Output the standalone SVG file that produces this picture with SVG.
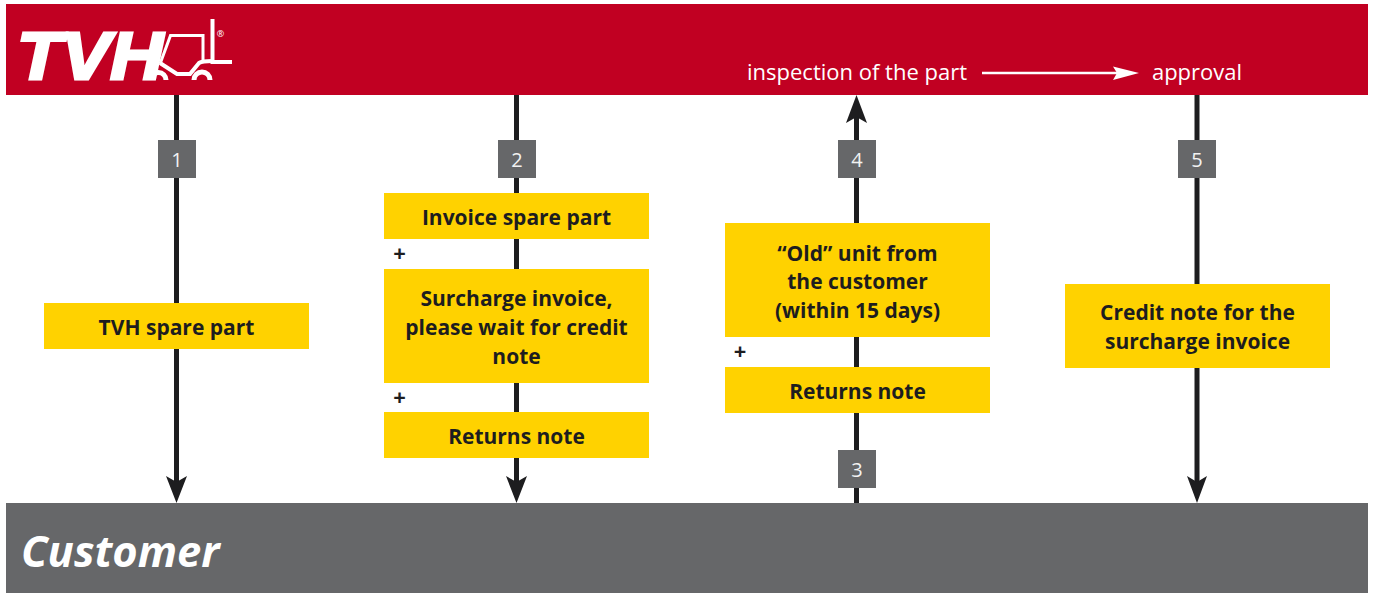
<svg xmlns="http://www.w3.org/2000/svg" width="1375" height="593" viewBox="0 0 1375 593">
<style>
text{font-family:"Open Sans","Noto Sans","Liberation Sans",sans-serif}
.box{fill:#ffd200}
.lbl{font-size:21px;font-weight:700;fill:#1d1d1f;text-anchor:middle}
.plus{font-size:22px;font-weight:700;fill:#1d1d1f;text-anchor:middle}
.num{fill:#666769}
.numt{font-size:20px;fill:#f2f2f2;text-anchor:middle}
.wire{stroke:#1d1d1f;stroke-width:5;fill:none}
.top{font-size:22px;fill:#fff;text-anchor:middle}
.head{fill:#1d1d1f}
</style>
<rect width="1375" height="593" fill="#fff"/>
<g id="tvh-band">
<rect x="6" y="4" width="1362" height="91" fill="#c10022"/>
<text x="17" y="79" font-size="67" font-weight="700" font-style="italic" fill="#fff" stroke="#fff" stroke-width="3" style="font-family:'Liberation Sans',sans-serif" textLength="146" lengthAdjust="spacingAndGlyphs">TVH</text>
<g fill="none" stroke="#fff">
<path d="M160 64 L170.500 35.500 H203 V60" stroke-width="3"/>
<path d="M212.500 19 V62 H232" stroke-width="4"/>
<path d="M160 63 L177 74 H190 L199 63 Q202 61 212 61" stroke-width="4"/>
<path d="M151 80 A7.500 7.500 0 0 1 166 80" stroke-width="5"/>
<path d="M194 80 A8 8 0 0 1 210 80" stroke-width="5"/>
</g>
<text x="220.500" y="36.500" font-size="9" fill="#fff" text-anchor="middle">®</text>
<text class="top" x="857" y="80">inspection of the part</text>
<text class="top" x="1197" y="80">approval</text>
<path d="M982 73 H1122" stroke="#fff" stroke-width="2.500"/>
<path d="M1139 73 L1113 66.500 L1117 73 L1113 80 Z" fill="#fff"/>
</g>
<g id="customer-band">
<rect x="6" y="503" width="1362" height="90" fill="#666769"/>
<text x="21" y="567" font-size="43.500" font-weight="700" font-style="italic" fill="#fff">Customer</text>
</g>
<g id="connectors">
<path class="wire" d="M176.500 95 V485"/>
<path class="head" d="M176.500 503 L166 476 L176.500 482 L187 476 Z"/>
<path class="wire" d="M516.500 95 V485"/>
<path class="head" d="M516.500 503 L506 476 L516.500 482 L527 476 Z"/>
<path class="wire" d="M856.500 503 V115"/>
<path class="head" d="M856.500 95 L846 123 L856.500 117 L867 123 Z"/>
<path class="wire" d="M1197 95 V485"/>
<path class="head" d="M1197 503 L1187 476 L1197 482 L1207 476 Z"/>
</g>
<g id="step-1"><rect class="num" x="158" y="140" width="38" height="38"/><text class="numt" x="177" y="167">1</text></g>
<g id="step-2"><rect class="num" x="498" y="140" width="38" height="38"/><text class="numt" x="517" y="167">2</text></g>
<g id="step-3"><rect class="num" x="838" y="450" width="38" height="38"/><text class="numt" x="857" y="477">3</text></g>
<g id="step-4"><rect class="num" x="838" y="140" width="38" height="38"/><text class="numt" x="857" y="167">4</text></g>
<g id="step-5"><rect class="num" x="1178" y="140" width="38" height="38"/><text class="numt" x="1197" y="167">5</text></g>
<g id="tvh-spare-part"><rect class="box" x="44" y="303" width="265" height="46"/><text class="lbl" x="176.500" y="335">TVH spare part</text></g>
<g id="invoice-spare-part"><rect class="box" x="384" y="193" width="265" height="46"/><text class="lbl" x="516.500" y="225">Invoice spare part</text></g>
<g id="surcharge-invoice"><rect class="box" x="384" y="269" width="265" height="114"/><text class="lbl" x="516.500" y="306">Surcharge invoice,</text><text class="lbl" x="516.500" y="335">please wait for credit</text><text class="lbl" x="516.500" y="364">note</text></g>
<g id="returns-note-customer"><rect class="box" x="384" y="412" width="265" height="46"/><text class="lbl" x="516.500" y="444">Returns note</text></g>
<g id="old-unit"><rect class="box" x="725" y="223" width="265" height="114"/><text class="lbl" x="857.500" y="261">“Old” unit from</text><text class="lbl" x="857.500" y="289">the customer</text><text class="lbl" x="857.500" y="318">(within 15 days)</text></g>
<g id="returns-note-tvh"><rect class="box" x="725" y="367" width="265" height="46"/><text class="lbl" x="857.500" y="399">Returns note</text></g>
<g id="credit-note"><rect class="box" x="1065" y="284" width="265" height="84"/><text class="lbl" x="1197.500" y="320">Credit note for the</text><text class="lbl" x="1197.500" y="349">surcharge invoice</text></g>
<text class="plus" x="399.500" y="261">+</text>
<text class="plus" x="399.500" y="405">+</text>
<text class="plus" x="740" y="359">+</text>
</svg>
